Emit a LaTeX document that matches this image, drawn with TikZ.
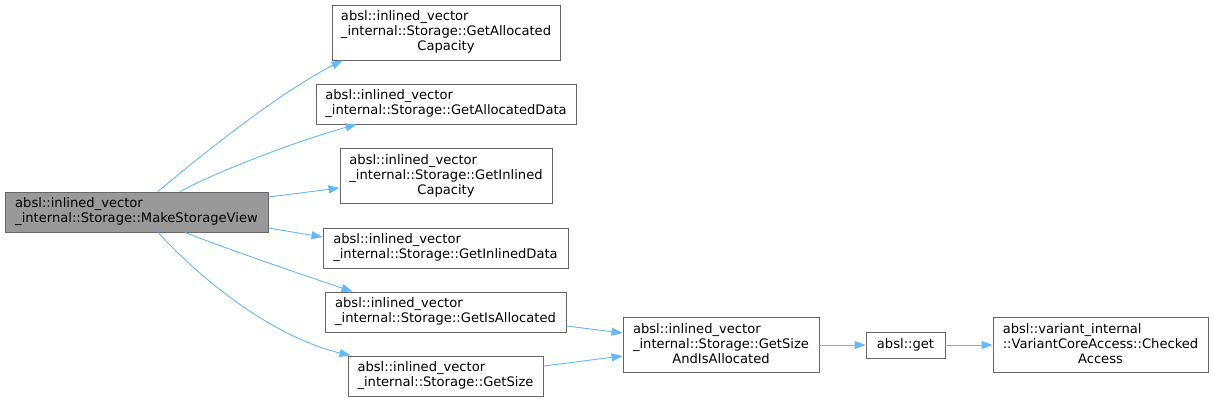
\documentclass[tikz,border=0pt]{standalone}
\usepackage{fontspec}
\setmainfont{DejaVu Sans}
\usepackage{tikz}
\usepackage{xcolor}
\usetikzlibrary{arrows.meta,positioning,calc}
\definecolor{EdgeBlue}{RGB}{99,184,255}
\definecolor{BoxGrey}{RGB}{102,102,102}
\definecolor{MainGrey}{RGB}{153,153,153}
\newcommand{\lastline}[1]{\multicolumn{1}{@{}c@{}}{#1}}

\begin{document}
\begin{tikzpicture}[x=1pt, y=-1pt, every node/.style={font=\fontsize{13.1}{15}\selectfont},
  fnbox/.style={draw=BoxGrey, fill=white, line width=0.9pt, inner sep=0pt, align=left},
  call/.style={draw=EdgeBlue, line width=0.9pt, -{Triangle[length=11pt, width=8pt]}}]
\useasboundingbox (0,0) rectangle (1213,402);

\node[fnbox, fill=MainGrey, minimum width=263pt, minimum height=40pt] (make) at (136.5,212) {absl::inlined\_vector\\\_internal::Storage::MakeStorageView};
\node[fnbox, minimum width=228pt, minimum height=55pt] (allocCap) at (446,32.5) {\begin{tabular}{@{}l@{}}absl::inlined\_vector\\\_internal::Storage::GetAllocated\\\lastline{Capacity}\end{tabular}};
\node[fnbox, minimum width=260pt, minimum height=40pt] (allocData) at (446,104) {absl::inlined\_vector\\\_internal::Storage::GetAllocatedData};
\node[fnbox, minimum width=212pt, minimum height=55pt] (inlCap) at (446,176) {\begin{tabular}{@{}l@{}}absl::inlined\_vector\\\_internal::Storage::GetInlined\\\lastline{Capacity}\end{tabular}};
\node[fnbox, minimum width=245pt, minimum height=40pt] (inlData) at (445.5,248) {absl::inlined\_vector\\\_internal::Storage::GetInlinedData};
\node[fnbox, minimum width=241pt, minimum height=40pt] (isAlloc) at (445.5,312) {absl::inlined\_vector\\\_internal::Storage::GetIsAllocated};
\node[fnbox, minimum width=195pt, minimum height=40pt] (getSize) at (445.5,376) {absl::inlined\_vector\\\_internal::Storage::GetSize};
\node[fnbox, minimum width=196pt, minimum height=55pt] (sizeAlloc) at (721,345) {\begin{tabular}{@{}l@{}}absl::inlined\_vector\\\_internal::Storage::GetSize\\\lastline{AndIsAllocated}\end{tabular}};
\node[fnbox, minimum width=79pt, minimum height=26pt] (absget) at (905.5,345) {absl::get};
\node[fnbox, minimum width=215pt, minimum height=55pt] (checked) at (1100.5,345) {\begin{tabular}{@{}l@{}}absl::variant\_internal\\::VariantCoreAccess::Checked\\\lastline{Access}\end{tabular}};

% calls out of MakeStorageView
\draw[call] ([xshift=21.5pt]make.north) .. controls (200,156) and (280,92) .. ([xshift=11pt]allocCap.south west);
\draw[call] ([xshift=43.5pt]make.north) .. controls (220,170) and (300,140) .. ([xshift=41pt]allocData.south west);
\draw[call] ([yshift=15pt]make.east) -- ([yshift=-12pt]inlCap.west);
\draw[call] ([yshift=-16pt]make.east) -- ([yshift=11pt]inlData.west);
\draw[call] ([xshift=48.5pt]make.south) .. controls (230,250) and (300,274) .. ([xshift=28pt]isAlloc.north west);
\draw[call] ([xshift=21.5pt]make.south) .. controls (200,278) and (270,336) .. ([xshift=3pt]getSize.north west);

\draw[call] ([yshift=-14pt]isAlloc.east) -- ([yshift=12pt]sizeAlloc.west);
\draw[call] ([yshift=10pt]getSize.east) -- ([yshift=-11pt]sizeAlloc.west);
\draw[call] (sizeAlloc) -- (absget);
\draw[call] (absget) -- (checked);
\end{tikzpicture}
\end{document}
